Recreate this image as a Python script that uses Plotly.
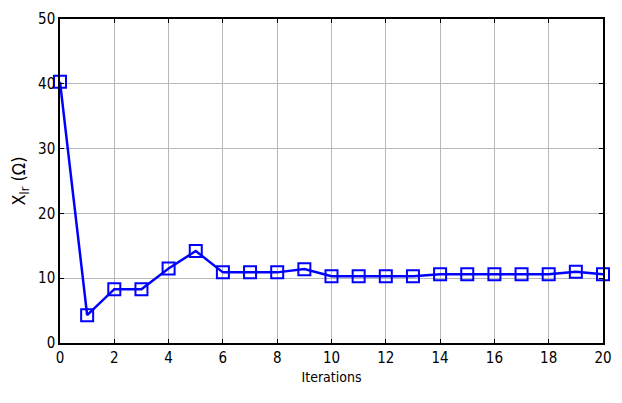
import plotly.graph_objects as go

iterations = list(range(21))
xlr_values = [40.3, 4.3, 8.3, 8.3, 11.5, 14.2, 10.9, 10.9, 10.9, 11.4,
              10.3, 10.3, 10.3, 10.3, 10.6, 10.6, 10.6, 10.6, 10.6, 11.0, 10.6]
x_ticks = list(range(0, 21, 2))
y_ticks = list(range(0, 51, 10))

font_family = "DejaVu Sans Condensed, Liberation Sans Narrow, Liberation Sans, Arial"

fig = go.Figure()
fig.add_trace(go.Scatter(
    x=iterations, y=xlr_values, mode="lines+markers",
    line=dict(color="#0000FF", width=2.5),
    marker=dict(symbol="square-open", size=12, color="#0000FF",
                line=dict(width=2, color="#0000FF")),
    cliponaxis=False, showlegend=False,
))

axis_common = dict(
    showline=True, linecolor="black", linewidth=1.5, mirror="ticks",
    showgrid=True, gridcolor="#B8B8B8", gridwidth=1,
    ticks="inside", ticklen=4, tickcolor="black",
    zeroline=False,
    tickfont=dict(family=font_family, size=15, color="black"),
)

fig.update_layout(
    width=622, height=403,
    margin=dict(l=60, r=10, t=17, b=60),
    plot_bgcolor="white", paper_bgcolor="white",
    xaxis=dict(range=[0, 20], tickvals=x_ticks, **axis_common,
               title=dict(text="Iterations", standoff=6,
                          font=dict(family=font_family, size=14, color="black"))),
    yaxis=dict(range=[0, 50], tickvals=y_ticks, **axis_common,
               title=dict(text="X<sub>lr</sub> (Ω)", standoff=8,
                          font=dict(family=font_family, size=18, color="black"))),
)

fig.write_html("out.html")
